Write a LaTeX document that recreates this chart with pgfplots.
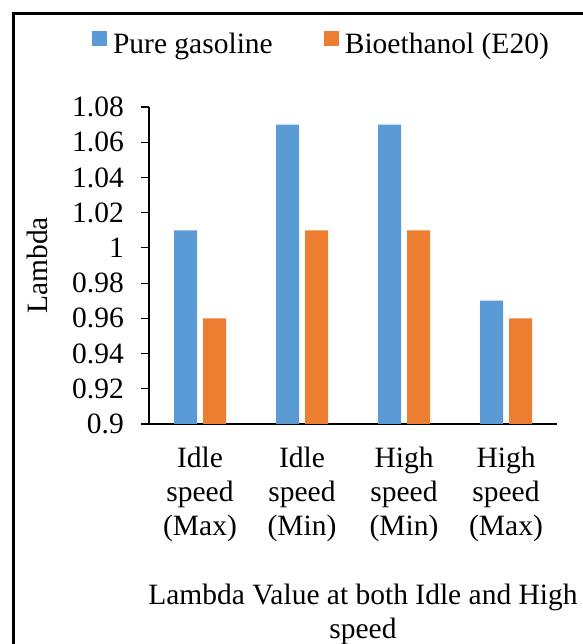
\documentclass[border=0pt]{standalone}
\usepackage{fontspec}
\setmainfont{Liberation Serif}
\usepackage{pgfplots}
\pgfplotsset{compat=1.18}
\definecolor{cblue}{HTML}{5B9BD5}
\definecolor{corange}{HTML}{ED7D31}
\begin{document}
\fontsize{29.5bp}{34bp}\selectfont
\begin{tikzpicture}[x=1bp,y=1bp]
\useasboundingbox (0,0) rectangle (583,644);
\draw[line width=3bp] (13.5,-5) -- (13.5,630.5) -- (590,630.5);
\begin{axis}[
  at={(149bp,220bp)}, anchor=south west,
  scale only axis, width=408bp, height=317bp,
  xmin=-0.5, xmax=3.5, ymin=0.9, ymax=1.08,
  axis x line*=bottom, axis y line*=left,
  x axis line style={line width=1.5bp, -},
  y axis line style={line width=1.2bp, -},
  ybar=6bp, bar width=23bp,
  xtick={0,1,2,3},
  xticklabels={{Idle\\speed\\(Max)},{Idle\\speed\\(Min)},{High\\speed\\(Min)},{High\\speed\\(Max)}},
  xticklabel style={align=center, inner sep=0pt, yshift=-15bp},
  xtick style={draw=none},
  ytick={0.9,0.92,0.94,0.96,0.98,1,1.02,1.04,1.06,1.08},
  yticklabels={0.9,0.92,0.94,0.96,0.98,1,1.02,1.04,1.06,1.08},
  yticklabel style={inner sep=0pt, xshift=-17bp},
  ytick style={line width=1.2bp, black},
  tick align=outside, major tick length=8bp,
  /pgf/number format/assume math mode=true,
  ylabel={Lambda},
  ylabel style={at={(axis description cs:-0.2745,0.5)}, anchor=center, inner sep=0pt},
  xlabel={Lambda Value at both Idle and High\\speed},
  xlabel style={at={(axis description cs:0.5245,-0.505)}, anchor=north, align=center, inner sep=0pt},
  legend columns=2,
  legend style={at={(axis description cs:-0.14,1.24)}, anchor=north west, draw=none, fill=none,
    inner sep=0pt, nodes={inner sep=0pt},
    /tikz/every odd column/.append style={column sep=6bp},
    /tikz/every even column/.append style={column sep=51bp}},
  legend image code/.code={\fill[#1] (0bp,-1bp) rectangle (15bp,14bp);},
]
\addplot[fill=cblue, draw=none] coordinates {(0,1.01) (1,1.07) (2,1.07) (3,0.97)};
\addplot[fill=corange, draw=none] coordinates {(0,0.96) (1,1.01) (2,1.01) (3,0.96)};
\legend{Pure gasoline, Bioethanol (E20)}
\end{axis}
\end{tikzpicture}
\end{document}
